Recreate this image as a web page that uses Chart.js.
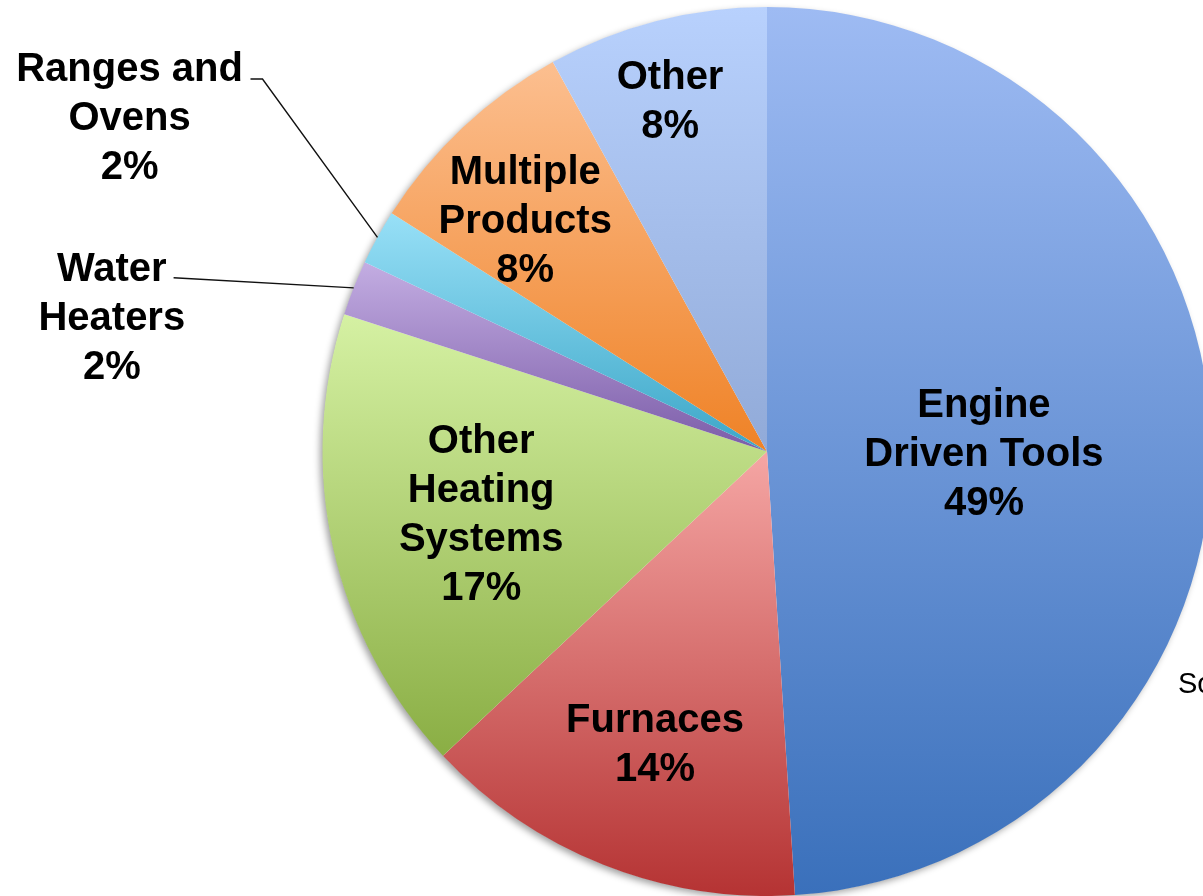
<!DOCTYPE html>
<html>
<head>
<meta charset="utf-8">
<script src="https://cdn.jsdelivr.net/npm/chart.js@4.4.1/dist/chart.umd.min.js"></script>
<style>
  html, body { margin: 0; padding: 0; background: #ffffff; overflow: hidden; width: 1203px; height: 896px; }
  #wrap { position: relative; width: 1240px; height: 896px; }
</style>
</head>
<body>
<div id="wrap"><canvas id="c" width="1240" height="896"></canvas></div>
<script>
// Slice names (one entry per text line) and their shares in percent
const categories = [
  ['Engine', 'Driven Tools'],
  ['Furnaces'],
  ['Other', 'Heating', 'Systems'],
  ['Water', 'Heaters'],
  ['Ranges and', 'Ovens'],
  ['Multiple', 'Products'],
  ['Other']
];
const shares = [49, 14, 17, 2, 2, 8, 8];
const sourceNote = 'Source';

// Gradient colours for each slice, light at its top edge, deeper at its bottom edge
const topColors    = ['#9ebbf3', '#f5a6a4', '#d5f1a3', '#c3ade2', '#98e0f7', '#fcbf90', '#b8d1fd'];
const bottomColors = ['#3a70bb', '#b53333', '#8aae44', '#7b5ca8', '#3ba6c7', '#ef8226', '#91aad8'];

// Label block centres, in pie radii from the centre
const labelOffsets = [
  [0.488, 0.000],
  [-0.252, 0.654],
  [-0.643, 0.138],
  [-1.474, -0.306],
  [-1.434, -0.754],
  [-0.544, -0.524],
  [-0.218, -0.792]
];
// Leader lines for labels placed outside the pie (points in radii, then to the rim)
const leaderPaths = {
  3: [[-1.335, -0.391]],
  4: [[-1.162, -0.838], [-1.135, -0.838]]
};
const LABEL_FONT = 'bold 40px "Liberation Sans", Arial, Helvetica, sans-serif';
const LINE_HEIGHT = 49;
const TEXT_NUDGE = 3; // optical centring of cap-height text

function pieGeometry(area) {
  const cx = (area.left + area.right) / 2;
  const cy = (area.top + area.bottom) / 2;
  const r = Math.min(area.right - area.left, area.bottom - area.top) / 2;
  return { cx, cy, r };
}

// Vertical gradient spanning each slice's own bounding box
function sliceFill(ctx) {
  const i = ctx.dataIndex;
  const area = ctx.chart.chartArea;
  if (!area || i === undefined) return topColors[i] || '#cccccc';
  const { cx, cy, r } = pieGeometry(area);
  const total = shares.reduce((a, b) => a + b, 0);
  let before = 0;
  for (let k = 0; k < i; k++) before += shares[k];
  const a0 = -Math.PI / 2 + 2 * Math.PI * before / total;
  const a1 = a0 + 2 * Math.PI * shares[i] / total;
  const ys = [cy, cy + r * Math.sin(a0), cy + r * Math.sin(a1)];
  for (let k = -1; k <= 2; k++) {
    const down = Math.PI / 2 + 2 * Math.PI * k;
    const up = -Math.PI / 2 + 2 * Math.PI * k;
    if (down >= a0 && down <= a1) ys.push(cy + r);
    if (up >= a0 && up <= a1) ys.push(cy - r);
  }
  const g = ctx.chart.ctx.createLinearGradient(0, Math.min(...ys), 0, Math.max(...ys));
  g.addColorStop(0, topColors[i]);
  g.addColorStop(1, bottomColors[i]);
  return g;
}

// Soft drop shadow under the whole pie
const pieShadow = {
  id: 'pieShadow',
  beforeDatasetsDraw(chart) {
    const arc = chart.getDatasetMeta(0).data[0];
    if (!arc) return;
    const c = chart.ctx;
    c.save();
    c.shadowColor = 'rgba(0,0,0,0.38)';
    c.shadowBlur = 7;
    c.shadowOffsetX = -3;
    c.shadowOffsetY = 3;
    c.fillStyle = '#ffffff';
    c.beginPath();
    c.arc(arc.x, arc.y, arc.outerRadius - 0.5, 0, Math.PI * 2);
    c.fill();
    c.restore();
  }
};

// Category + percentage labels, with leader lines for the thin slices
const sliceLabels = {
  id: 'sliceLabels',
  afterDatasetsDraw(chart) {
    const c = chart.ctx;
    const meta = chart.getDatasetMeta(0);
    const labels = chart.data.labels;
    const values = chart.data.datasets[0].data;
    c.save();
    meta.data.forEach((arc, i) => {
      const R = arc.outerRadius;
      const lines = labels[i].concat([values[i] + '%']);
      const bx = arc.x + labelOffsets[i][0] * R;
      const by = arc.y + labelOffsets[i][1] * R + TEXT_NUDGE;

      const path = leaderPaths[i];
      if (path) {
        const mid = (arc.startAngle + arc.endAngle) / 2;
        c.beginPath();
        path.forEach((p, k) => {
          const px = arc.x + p[0] * R, py = arc.y + p[1] * R;
          if (k === 0) c.moveTo(px, py); else c.lineTo(px, py);
        });
        c.lineTo(arc.x + Math.cos(mid) * R, arc.y + Math.sin(mid) * R);
        c.strokeStyle = '#111111';
        c.lineWidth = 1.4;
        c.stroke();
      }

      c.font = LABEL_FONT;
      c.fillStyle = '#000000';
      c.textAlign = 'center';
      c.textBaseline = 'middle';
      const y0 = by - (lines.length - 1) * LINE_HEIGHT / 2;
      lines.forEach((t, k) => c.fillText(t, bx, y0 + k * LINE_HEIGHT));
    });

    // Source note at the right edge
    c.font = '29px "Liberation Sans", Arial, Helvetica, sans-serif';
    c.textAlign = 'left';
    c.textBaseline = 'alphabetic';
    c.fillStyle = '#000000';
    c.fillText(sourceNote, 1178, 693);
    c.restore();
  }
};

new Chart(document.getElementById('c'), {
  type: 'pie',
  data: {
    labels: categories,
    datasets: [{
      data: shares,
      backgroundColor: sliceFill,
      borderWidth: 0,
      hoverOffset: 0,
      offset: 0
    }]
  },
  options: {
    responsive: false,
    animation: false,
    events: [],
    layout: { padding: { left: 294, right: 0, top: 7, bottom: 0 } },
    plugins: { legend: { display: false }, tooltip: { enabled: false } }
  },
  plugins: [pieShadow, sliceLabels]
});
</script>
</body>
</html>
